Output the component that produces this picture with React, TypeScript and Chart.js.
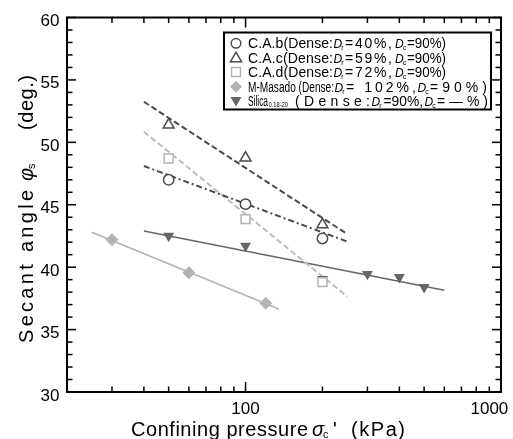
import React, { useEffect, useRef } from 'react';
import { Chart, registerables } from 'chart.js';

Chart.register(...registerables);

// ---- data ----
const xTickLabels = ['100', '1000'];
const yTickLabels = ['30', '35', '40', '45', '50', '55', '60'];

const cabPressure = [50, 100, 200];
const cabAngle = [47.0, 45.05, 42.3];
const cacPressure = [50, 100, 200];
const cacAngle = [51.4, 48.75, 43.4];
const cadPressure = [50, 100, 200];
const cadAngle = [48.7, 43.85, 38.8];
const masadoPressure = [30, 60, 120];
const masadoAngle = [42.2, 39.55, 37.1];
const silicaPressure = [50, 100, 200, 300, 400, 500];
const silicaAngle = [42.5, 41.7, 39.05, 39.45, 39.2, 38.4];

// fitted trend lines
const cabFitX = [40, 250];
const cabFitY = [48.1, 42.05];
const cacFitX = [40, 100, 250];
const cacFitY = [53.25, 47.95, 42.65];
const cadFitX = [40, 250];
const cadFitY = [50.85, 37.65];
const silicaFitX = [40, 600];
const silicaFitY = [42.9, 38.15];
const masadoFitX = [25, 135];
const masadoFitY = [42.8, 36.65];

const FONT = '"Liberation Sans", Arial, Helvetica, sans-serif';
const DARK = '#4a4a4a';
const LIGHT = '#b3b3b3';
const SILICA = '#666666';

const pts = (xs: number[], ys: number[]) => xs.map((x, i) => ({ x, y: ys[i] }));

function runFit(ctx: CanvasRenderingContext2D, text: string, font: string, x0: number, x1: number, y: number) {
  ctx.font = font;
  (ctx as any).letterSpacing = '0px';
  const w = ctx.measureText(text).width;
  const target = x1 - x0;
  const n = text.length;
  if (w > target) {
    ctx.save();
    ctx.translate(x0, y);
    ctx.scale(target / w, 1);
    ctx.fillText(text, 0, 0);
    ctx.restore();
    return;
  }
  const ls = n > 1 ? (target - w) / (n - 1) : 0;
  (ctx as any).letterSpacing = ls + 'px';
  ctx.fillText(text, x0, y);
  (ctx as any).letterSpacing = '0px';
}

function symWithSub(ctx: CanvasRenderingContext2D, main: string, sub: string, x: number, y: number, size: number, subSize: number) {
  (ctx as any).letterSpacing = '0px';
  ctx.font = `italic ${size}px ${FONT}`;
  ctx.fillText(main, x, y);
  const w = ctx.measureText(main).width;
  ctx.font = `${subSize}px ${FONT}`;
  ctx.fillText(sub, x + w - 1, y + 2);
}

function drawMarker(ctx: CanvasRenderingContext2D, kind: string, x: number, y: number) {
  ctx.save();
  ctx.lineWidth = 1.5;
  ctx.beginPath();
  if (kind === 'circle') {
    ctx.strokeStyle = DARK; ctx.fillStyle = '#fff';
    ctx.arc(x, y, 4.8, 0, Math.PI * 2); ctx.fill(); ctx.stroke();
  } else if (kind === 'tri') {
    ctx.strokeStyle = DARK; ctx.fillStyle = '#fff';
    ctx.moveTo(x, y - 5.5); ctx.lineTo(x + 5.5, y + 4); ctx.lineTo(x - 5.5, y + 4); ctx.closePath(); ctx.fill(); ctx.stroke();
  } else if (kind === 'rect') {
    ctx.strokeStyle = LIGHT; ctx.fillStyle = '#fff';
    ctx.rect(x - 4.5, y - 4.5, 9, 9); ctx.fill(); ctx.stroke();
  } else if (kind === 'diamond') {
    ctx.fillStyle = LIGHT;
    ctx.moveTo(x, y - 6); ctx.lineTo(x + 6, y); ctx.lineTo(x, y + 6); ctx.lineTo(x - 6, y); ctx.closePath(); ctx.fill();
  } else if (kind === 'down') {
    ctx.fillStyle = SILICA;
    ctx.moveTo(x - 5.5, y - 4); ctx.lineTo(x + 5.5, y - 4); ctx.lineTo(x, y + 5.5); ctx.closePath(); ctx.fill();
  }
  ctx.restore();
}

const decorPlugin = {
  id: 'decor',
  afterDraw(chart: any) {
    const { ctx, chartArea: a, scales } = chart;
    const xs = scales.x, ys = scales.y;
    ctx.save();
    // ticks
    ctx.strokeStyle = '#000';
    ctx.lineWidth = 1.5;
    const seg = (x0: number, y0: number, x1: number, y1: number) => {
      ctx.beginPath(); ctx.moveTo(x0, y0); ctx.lineTo(x1, y1); ctx.stroke();
    };
    for (let v = 30; v <= 60; v++) {
      const py = ys.getPixelForValue(v);
      const len = v % 5 === 0 ? 9 : 5.5;
      seg(a.left, py, a.left + len, py);
      seg(a.right, py, a.right - len, py);
    }
    const xTicks: number[] = [];
    for (let d = 10; d <= 100; d *= 10) for (let m = 1; m <= 9; m++) if (m * d >= 20) xTicks.push(m * d);
    xTicks.push(1000);
    for (const v of xTicks) {
      const px = xs.getPixelForValue(v);
      const major = v === 100 || v === 1000;
      const len = major ? 10 : 5.5;
      seg(px, a.bottom, px, a.bottom - len);
      seg(px, a.top, px, a.top + len);
    }
    ctx.lineWidth = 2;
    ctx.strokeRect(a.left, a.top, a.right - a.left, a.bottom - a.top);

    // tick labels
    ctx.fillStyle = '#000';
    ctx.font = `17px ${FONT}`;
    ctx.textBaseline = 'alphabetic';
    ctx.textAlign = 'right';
    for (const t of yTickLabels) {
      const py = ys.getPixelForValue(Number(t));
      ctx.fillText(t, 59.5, py + 8.5);
    }
    ctx.textAlign = 'center';
    ctx.fillText(xTickLabels[0], xs.getPixelForValue(Number(xTickLabels[0])), 413.5);
    ctx.textAlign = 'left';
    ctx.fillText(xTickLabels[1], 470.5, 413.5);

    // x title
    ctx.textAlign = 'left';
    runFit(ctx, 'Confining pressure', `20px ${FONT}`, 131, 308, 436);
    symWithSub(ctx, 'σ', 'c', 312, 436, 20, 11);
    ctx.font = `20px ${FONT}`;
    ctx.fillText("'", 333, 436);
    runFit(ctx, '(kPa)', `20px ${FONT}`, 351, 405, 436);

    // y title (rotated)
    ctx.save();
    ctx.translate(33, 0);
    ctx.rotate(-Math.PI / 2);
    runFit(ctx, 'Secant angle', `20px ${FONT}`, -343, -190, 0);
    symWithSub(ctx, 'φ', 's', -181, 0, 20, 11);
    runFit(ctx, '(deg.)', `20px ${FONT}`, -130, -75, 0);
    ctx.restore();

    // legend
    const lx0 = 224, ly0 = 32.5, lx1 = 491, ly1 = 109.5;
    ctx.fillStyle = '#fff';
    ctx.fillRect(lx0, ly0, lx1 - lx0, ly1 - ly0);
    ctx.lineWidth = 2;
    ctx.strokeStyle = '#000';
    ctx.strokeRect(lx0, ly0, lx1 - lx0, ly1 - ly0);
    const rows = [43.3, 57.7, 72, 86.7, 101];
    const kinds = ['circle', 'tri', 'rect', 'diamond', 'down'];
    rows.forEach((ry, i) => drawMarker(ctx, kinds[i], 236, ry));
    ctx.fillStyle = '#000';
    ctx.textAlign = 'left';
    const f14 = `14px ${FONT}`;
    const names = ['C.A.b(Dense:', 'C.A.c(Dense:', 'C.A.d(Dense:'];
    const drs = ['=40%,', '=59%,', '=72%,'];
    for (let i = 0; i < 3; i++) {
      const b = rows[i] + 5;
      runFit(ctx, names[i], f14, 248, 333, b);
      symWithSub(ctx, 'D', 'r', 333.5, b, 12, 7);
      runFit(ctx, drs[i], f14, 345, 392, b);
      symWithSub(ctx, 'D', 'c', 395, b, 12, 7);
      runFit(ctx, '=90%)', f14, 407, 446, b);
    }
    {
      const b = rows[3] + 5;
      runFit(ctx, 'M-Masado (Dense:', f14, 248, 334, b);
      symWithSub(ctx, 'D', 'r', 334.5, b, 12, 7);
      runFit(ctx, '= 102%,', f14, 346, 416, b);
      symWithSub(ctx, 'D', 'c', 417.5, b, 12, 7);
      runFit(ctx, '=90%)', f14, 430, 487, b);
    }
    {
      const b = rows[4] + 5;
      runFit(ctx, 'Silica', f14, 248, 268, b);
      runFit(ctx, '0.18-20', `7px ${FONT}`, 268.5, 288, b + 1);
      runFit(ctx, '(Dense:', f14, 295, 370, b);
      symWithSub(ctx, 'D', 'r', 371.5, b, 12, 7);
      runFit(ctx, '=90%,', f14, 383.5, 423, b);
      symWithSub(ctx, 'D', 'c', 424.5, b, 12, 7);
      runFit(ctx, '=—%)', f14, 437, 488, b);
    }
    ctx.restore();
  },
};

export default function App() {
  const ref = useRef<HTMLCanvasElement | null>(null);
  useEffect(() => {
    if (!ref.current) return;
    const lineDs = (label: string, xs: number[], ys: number[], color: string, dash: number[], width: number, order: number) => ({
      label, data: pts(xs, ys), showLine: true, borderColor: color, borderDash: dash, borderWidth: width,
      pointRadius: 0, fill: false, order,
    });
    const chart = new Chart(ref.current, {
      type: 'scatter',
      data: {
        datasets: [
          lineDs('C.A.b fit', cabFitX, cabFitY, DARK, [6, 3, 2, 3], 2, 10),
          lineDs('C.A.c fit', cacFitX, cacFitY, DARK, [6, 3], 2, 10),
          lineDs('C.A.d fit', cadFitX, cadFitY, '#bdbdbd', [6, 3], 2, 10),
          lineDs('Silica fit', silicaFitX, silicaFitY, SILICA, [], 1.6, 10),
          lineDs('M-Masado fit', masadoFitX, masadoFitY, LIGHT, [], 1.6, 10),
          {
            label: 'Silica', data: pts(silicaPressure, silicaAngle), pointStyle: 'triangle', rotation: 180,
            pointRadius: 6.3, backgroundColor: SILICA, borderColor: SILICA, borderWidth: 0, order: 5,
          },
          {
            label: 'C.A.b', data: pts(cabPressure, cabAngle), pointStyle: 'circle', pointRadius: 5.2,
            backgroundColor: '#fff', borderColor: DARK, borderWidth: 1.5, order: 1,
          },
          {
            label: 'C.A.c', data: pts(cacPressure, cacAngle), pointStyle: 'triangle', pointRadius: 6.3,
            backgroundColor: '#fff', borderColor: DARK, borderWidth: 1.5, order: 1,
          },
          {
            label: 'C.A.d', data: pts(cadPressure, cadAngle), pointStyle: 'rect', pointRadius: 6.3,
            backgroundColor: '#fff', borderColor: LIGHT, borderWidth: 1.5, order: 1,
          },
          {
            label: 'M-Masado', data: pts(masadoPressure, masadoAngle), pointStyle: 'rectRot', pointRadius: 6.5,
            backgroundColor: LIGHT, borderColor: LIGHT, borderWidth: 0, order: 1,
          },
        ],
      },
      options: {
        responsive: false,
        animation: false,
        devicePixelRatio: 1,
        layout: { padding: { left: 67, top: 17.5, right: 12, bottom: 47 } },
        scales: {
          x: { type: 'logarithmic', min: 20, max: 1000, display: false },
          y: { type: 'linear', min: 30, max: 60, display: false },
        },
        plugins: { legend: { display: false }, tooltip: { enabled: false } },
        events: [],
      },
      plugins: [decorPlugin],
    } as any);
    return () => chart.destroy();
  }, []);
  return (
    <div style={{ position: 'fixed', left: 0, top: 0, width: 513, height: 439, background: '#fff' }}>
      <canvas ref={ref} width={513} height={439} style={{ display: 'block' }} />
    </div>
  );
}
